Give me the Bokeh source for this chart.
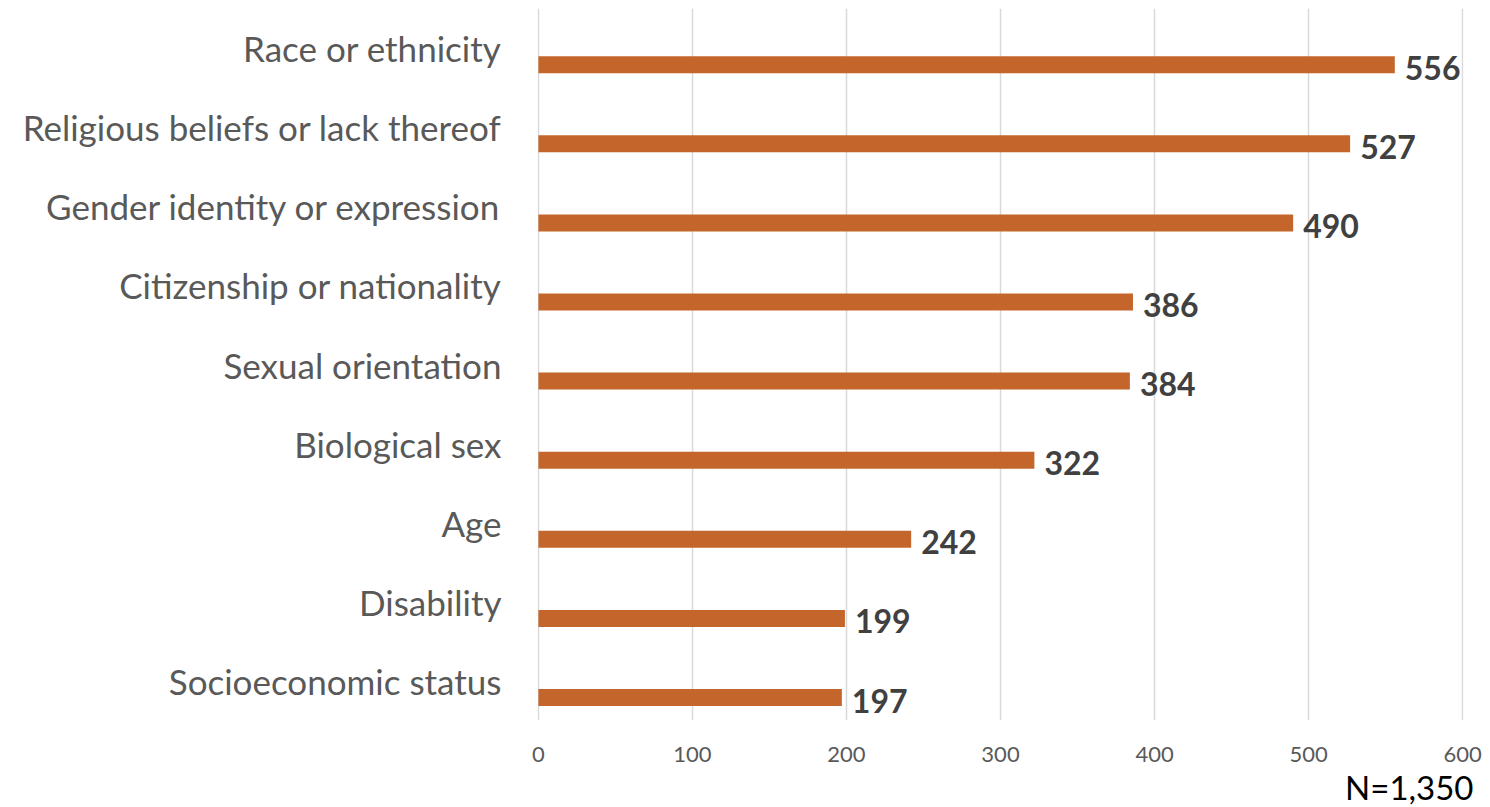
from bokeh.plotting import figure
from bokeh.models import FactorRange, Range1d, Title, ColumnDataSource
from bokeh.transform import dodge
from bokeh.core.properties import value
from bokeh.embed import file_html
from bokeh.resources import INLINE

categories = ["Race or ethnicity", "Religious beliefs or lack thereof",
              "Gender identity or expression", "Citizenship or nationality",
              "Sexual orientation", "Biological sex", "Age", "Disability",
              "Socioeconomic status"]
counts = [556, 527, 490, 386, 384, 322, 242, 199, 197]
x_ticks = [0, 100, 200, 300, 400, 500, 600]
note = "N=1,350"

src = ColumnDataSource(dict(cat=categories, val=counts,
                            lab=[str(v) for v in counts]))

p = figure(frame_width=926, frame_height=712,
           output_backend="svg", toolbar_location=None,
           y_range=FactorRange(*categories[::-1], range_padding=0),
           x_range=Range1d(-0.6, 600.6),
           min_border_left=537, min_border_right=27,
           min_border_top=8, min_border_bottom=0)
p.outline_line_color = None
p.background_fill_color = "white"

ybar = dodge("cat", -0.21, range=p.y_range)
p.hbar(y=ybar, right="val", left=0, height=0.215, source=src,
       fill_color="#C4662B", line_color=None)
p.text(x="val", y=ybar, text="lab", source=src, x_offset=10, y_offset=3,
       text_baseline="middle", text_align="left",
       text_font=value("Lato"), text_font_style="bold",
       text_font_size="32px", text_color="#404040")

p.xaxis.ticker = x_ticks
p.xaxis.axis_line_color = None
p.xaxis.major_tick_line_color = None
p.xaxis.minor_tick_line_color = None
p.xaxis.major_label_text_font = "Lato"
p.xaxis.major_label_text_font_size = "22px"
p.xaxis.major_label_text_color = "#595959"
p.xaxis.major_label_standoff = 20

p.yaxis.axis_line_color = None
p.yaxis.major_tick_line_color = None
p.yaxis.minor_tick_line_color = None
p.yaxis.major_label_text_font = "Lato"
p.yaxis.major_label_text_font_size = "35px"
p.yaxis.major_label_text_color = "#595959"
p.yaxis.major_label_standoff = 30

p.xgrid.grid_line_color = "#D9D9D9"
p.xgrid.grid_line_width = 1.5
p.ygrid.grid_line_color = None

p.add_layout(Title(text=note, align="right", offset=-10, standoff=0,
                   text_font="Lato", text_font_size="33px",
                   text_font_style="normal", text_color="black"), "below")

open("out.html", "w").write(file_html(p, INLINE))
